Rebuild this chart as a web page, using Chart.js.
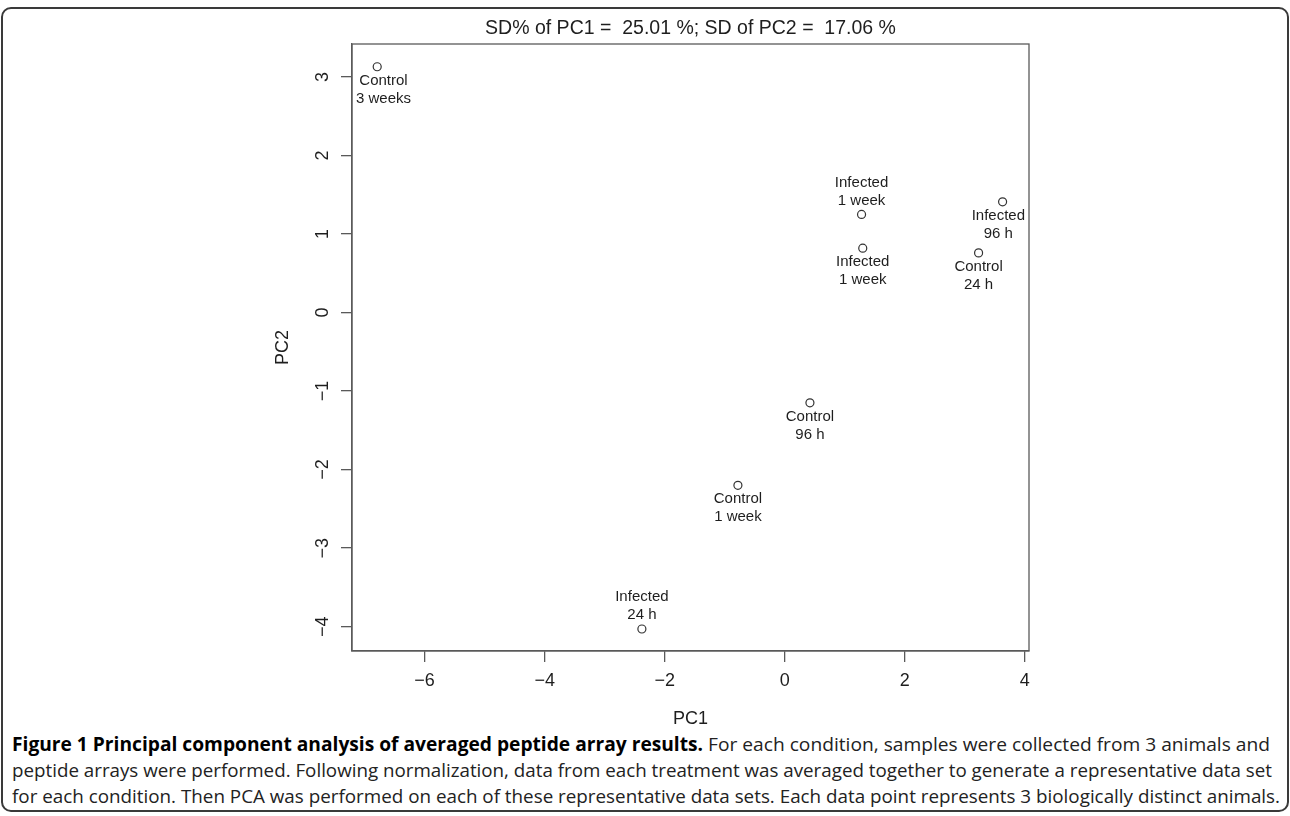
<!DOCTYPE html>
<html>
<head>
<meta charset="utf-8">
<title>PCA peptide arrays</title>
<script src="https://cdn.jsdelivr.net/npm/chart.js@4.4.1/dist/chart.umd.min.js"></script>
<style>
html, body { margin: 0; padding: 0; background: #fff; }
body { width: 1290px; height: 816px; position: relative; overflow: hidden; }
#frame { position: absolute; left: 1px; top: 7px; width: 1284px; height: 801px; border: 2px solid #3a3a3a; border-radius: 10px; }
#chartBox { position: absolute; left: 0; top: 0; width: 1290px; height: 730px; }
#caption { position: absolute; left: 12px; top: 731px; font-family: "Open Sans", sans-serif; font-size: 19px; line-height: 26px; color: #222; white-space: nowrap; }
#caption .line { display: block; width: max-content; transform-origin: 0 0; }
#caption b { font-weight: 700; color: #000; }
</style>
</head>
<body>
<div id="frame"></div>
<div id="chartBox"><canvas id="chart" width="1290" height="730"></canvas></div>
<div id="caption">
  <span class="line" data-w="1258"><b>Figure 1 Principal component analysis of averaged peptide array results.</b> For each condition, samples were collected from 3 animals and</span>
  <span class="line" data-w="1260">peptide arrays were performed. Following normalization, data from each treatment was averaged together to generate a representative data set</span>
  <span class="line" data-w="1268">for each condition. Then PCA was performed on each of these representative data sets. Each data point represents 3 biologically distinct animals.</span>
</div>
<script>
// Werte
const sampleNames = [
    ['Control', '3 weeks'],
    ['Infected', '1 week'],
    ['Infected', '1 week'],
    ['Infected', '96 h'],
    ['Control', '24 h'],
    ['Control', '96 h'],
    ['Control', '1 week'],
    ['Infected', '24 h']
];
const pc1Values = [-6.79, 1.28, 1.30, 3.63, 3.23, 0.42, -0.78, -2.38];
const pc2Values = [3.13, 1.25, 0.82, 1.41, 0.76, -1.15, -2.20, -4.03];

const xTickValues = [-6, -4, -2, 0, 2, 4];
const yTickValues = [-4, -3, -2, -1, 0, 1, 2, 3];

const plotTitle = 'SD% of PC1 =  25.01 %; SD of PC2 =  17.06 %';
const xTitle = 'PC1';
const yTitle = 'PC2';

// Label oberhalb (true) oder unterhalb (false) des Punktes
const labelAbove = [false, true, false, false, false, false, false, true];

const inkColor = '#1e1e1e';
const axisColor = '#5a5a5a';

function fmt(v) {
    return v < 0 ? '\u2212' + Math.abs(v) : String(v);
}

// eigenes Plugin für Rahmen, Achsenbeschriftung und Punktlabels im R-Stil
const rStylePlugin = {
    id: 'rStyle',
    afterDraw: function (chart) {
        const ctx = chart.ctx;
        const area = chart.chartArea;
        const xs = chart.scales.x;
        const ys = chart.scales.y;

        ctx.save();
        ctx.strokeStyle = axisColor;
        ctx.lineWidth = 1.3;
        ctx.strokeRect(area.left, area.top, area.right - area.left, area.bottom - area.top);

        ctx.fillStyle = inkColor;
        ctx.textAlign = 'center';
        ctx.textBaseline = 'middle';

        ctx.font = '19.5px "Liberation Sans", Arial, sans-serif';
        ctx.fillText(plotTitle, (area.left + area.right) / 2, 29);

        ctx.font = '18px "Liberation Sans", Arial, sans-serif';
        xTickValues.forEach(function (v) {
            ctx.fillText(fmt(v), xs.getPixelForValue(v), area.bottom + 30);
        });
        yTickValues.forEach(function (v) {
            ctx.save();
            ctx.translate(area.left - 29, ys.getPixelForValue(v));
            ctx.rotate(-Math.PI / 2);
            ctx.fillText(fmt(v), 0, 0);
            ctx.restore();
        });

        ctx.fillText(xTitle, (area.left + area.right) / 2, area.bottom + 68);
        ctx.save();
        ctx.translate(area.left - 69, (area.top + area.bottom) / 2);
        ctx.rotate(-Math.PI / 2);
        ctx.fillText(yTitle, 0, 0);
        ctx.restore();

        ctx.font = '15px "Liberation Sans", Arial, sans-serif';
        const meta = chart.getDatasetMeta(0);
        meta.data.forEach(function (pt, i) {
            const lines = sampleNames[i];
            let cx = pt.x;
            const w = Math.max(ctx.measureText(lines[0]).width, ctx.measureText(lines[1]).width);
            if (cx - w / 2 < area.left + 4) cx = area.left + 4 + w / 2;
            if (cx + w / 2 > area.right - 4) cx = area.right - 4 - w / 2;
            if (labelAbove[i]) {
                ctx.fillText(lines[0], cx, pt.y - 32);
                ctx.fillText(lines[1], cx, pt.y - 14);
            } else {
                ctx.fillText(lines[0], cx, pt.y + 14);
                ctx.fillText(lines[1], cx, pt.y + 32);
            }
        });
        ctx.restore();
    }
};

const points = pc1Values.map(function (x, i) {
    return { x: x, y: pc2Values[i] };
});

const config = {
    type: 'scatter',
    data: {
        datasets: [{
            label: 'PCA',
            data: points,
            pointStyle: 'circle',
            pointRadius: 4,
            pointHoverRadius: 4,
            borderWidth: 1.2,
            borderColor: '#333',
            backgroundColor: 'rgba(0,0,0,0)'
        }]
    },
    options: {
        responsive: false,
        animation: false,
        events: [],
        layout: { padding: { left: 341, right: 261, top: 44, bottom: 68 } },
        plugins: {
            legend: { display: false },
            tooltip: { enabled: false },
            title: { display: false }
        },
        scales: {
            x: {
                type: 'linear',
                min: -7.21,
                max: 4.07,
                afterBuildTicks: function (axis) {
                    axis.ticks = xTickValues.map(function (v) { return { value: v }; });
                },
                grid: { drawOnChartArea: false, drawTicks: true, tickLength: 11, color: axisColor, lineWidth: 1.3 },
                border: { display: true, color: axisColor, width: 1.3 },
                ticks: { display: false }
            },
            y: {
                type: 'linear',
                min: -4.31,
                max: 3.42,
                afterBuildTicks: function (axis) {
                    axis.ticks = yTickValues.map(function (v) { return { value: v }; });
                },
                grid: { drawOnChartArea: false, drawTicks: true, tickLength: 11, color: axisColor, lineWidth: 1.3 },
                border: { display: true, color: axisColor, width: 1.3 },
                ticks: { display: false }
            }
        }
    },
    plugins: [rStylePlugin]
};

new Chart(document.getElementById('chart'), config);

// Bildunterschrift auf die Zeilenbreite des Originals stauchen
document.querySelectorAll('#caption .line').forEach(function (el) {
    const target = parseFloat(el.getAttribute('data-w'));
    const actual = el.getBoundingClientRect().width;
    el.style.transform = 'scaleX(' + (target / actual) + ')';
});
</script>
</body>
</html>
